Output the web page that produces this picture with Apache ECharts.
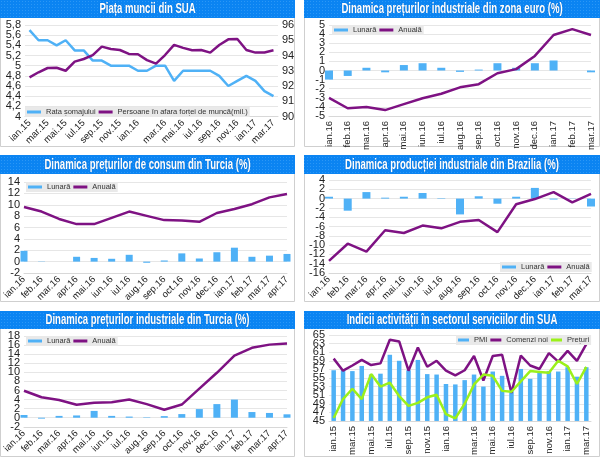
<!DOCTYPE html>
<html>
<head>
<meta charset="utf-8">
<style>
  html, body { margin: 0; padding: 0; background: #fff; }
  #chart { width: 600px; height: 458px; }
</style>
<script src="https://cdn.jsdelivr.net/npm/echarts@6/dist/echarts.min.js"></script>
</head>
<body>
<div id="chart"></div>
<script>
// etichete axa x (lunile din grafice)
const luni15 = ['ian.16','feb.16','mar.16','apr.16','mai.16','iun.16','iul.16','aug.16','sep.16','oct.16','nov.16','dec.16','ian.17','feb.17','mar.17'];
const luni16 = luni15.concat(['apr.17']);
const luni28 = ['ian.15','','mar.15','','mai.15','','iul.15','','sep.15','','nov.15','','ian.16','','','mar.16','','mai.16','','iul.16','','sep.16','','nov.16','','ian.17','','mar.17'];

// Piata muncii din SUA
const rataSomaj = [5.7,5.5,5.5,5.4,5.5,5.3,5.3,5.1,5.1,5.0,5.0,5.0,4.9,4.9,5.0,5.0,4.7,4.9,4.9,4.9,4.9,4.8,4.6,4.7,4.8,4.7,4.5,4.4];
const inAfaraFortei = [92.57,92.9,93.18,93.2,93.0,93.6,93.77,94.03,94.58,94.43,94.36,94.1,94.08,93.7,93.47,94.03,94.7,94.5,94.34,94.36,94.19,94.69,95.06,95.08,94.36,94.19,94.2,94.34];

// Preturi industriale zona euro
const euroLunara = [-1.0,-0.6,0.3,-0.2,0.6,0.8,0.3,-0.15,0.1,0.8,0.3,0.8,1.1,0,-0.2];
const euroAnuala = [-3,-4.15,-4.0,-4.35,-3.7,-3.05,-2.55,-1.85,-1.5,-0.3,0.15,1.6,3.9,4.55,3.9];

// Preturi de consum Turcia
const consumLunara = [1.9,0.05,0,0.85,0.65,0.5,1.2,-0.2,0.2,1.45,0.55,1.65,2.45,0.85,1.05,1.35];
const consumAnuala = [9.6,8.8,7.5,6.6,6.6,7.7,8.8,8.05,7.3,7.25,7.0,8.55,9.25,10.1,11.3,11.9];

// Productia industriala Brazilia
const brazLunara = [0.4,-2.6,1.4,0.2,0.4,1.2,0.1,-3.4,0.5,-1.1,0.4,2.3,-0.2,0.05,-1.7];
const brazAnuala = [-13.4,-9.7,-11.4,-6.8,-7.4,-5.8,-6.4,-5,-4.6,-7.2,-1.2,-0.1,1.4,-0.8,1.0];

// Preturi industriale Turcia
const turcLunara = [0.6,-0.2,0.4,0.5,1.5,0.4,0.25,0.1,0.35,0.8,1.9,3.0,4.0,1.25,1.05,0.75];
const turcAnuala = [5.95,4.5,3.9,2.85,3.3,3.4,4.0,3.0,1.75,2.9,6.4,9.9,13.7,15.4,16.1,16.35];

// Indici servicii SUA
const pmi = [56.8,56.8,56.6,57.8,55.8,56,60.4,59,56.8,59.2,55.9,55.8,53.6,53.5,54.5,55.8,53,56.5,55.5,51.9,57.1,54.8,56.3,56.6,56.5,57.5,55.3,57.5];
const comenziNoi = [59.5,56.7,57.9,59.2,58,58.4,63.9,63.5,56.7,62.1,57.6,59,56.7,55.6,56.8,60.1,54.4,60.1,60.4,51.5,60.2,57.9,57.1,60.8,58.8,61.3,59,62.9];
const preturi = [45.7,50.1,52.5,50.1,55.9,53,53.9,50.8,48.5,49.2,50.5,51.1,46.6,45.6,49,53.5,55.8,55.5,52,51.8,54.2,56.6,56.4,56.2,59,57.7,53.6,57.6];

const ALBASTRU = '#4fb1f6';
const MOV = '#7e1283';
const VERDE = '#9bf01a';
const FONT = '"Liberation Sans", Arial, sans-serif';

// textura cu puncte din banda de titlu
const tex = document.createElement('canvas');
tex.width = 3; tex.height = 3;
const tctx = tex.getContext('2d');
tctx.fillStyle = '#0b84f2';
tctx.fillRect(0, 0, 3, 3);
tctx.fillStyle = '#2b97f6';
tctx.fillRect(1, 1, 1, 1);

const panels = [
  { box: [0, 0, 295, 147], band: 18, title: 'Piața muncii din SUA', grid: [25, 25, 278, 116.5], cats: luni28, rotate: 45,
    y: { min: 4, max: 5.8, interval: 0.2, comma: true }, y2: { min: 90, max: 96, interval: 1 }, legend: { x: 25, y: 107 },
    items: [{ n: 'Rata șomajului', t: 'line', c: ALBASTRU, d: rataSomaj }, { n: 'Persoane în afara forței de muncă(mil.)', t: 'line', c: MOV, d: inAfaraFortei, axis: 1 }] },
  { box: [304, 0, 296, 147], band: 18, title: 'Dinamica prețurilor industriale din zona euro (%)', grid: [329, 25, 591, 116], cats: luni15, rotate: 90, edge: true, barW: 8,
    y: { min: -5, max: 5, interval: 1 }, legend: { x: 332, y: 25 },
    items: [{ n: 'Lunară', t: 'bar', c: ALBASTRU, d: euroLunara }, { n: 'Anuală', t: 'line', c: MOV, d: euroAnuala }] },
  { box: [0, 155, 295, 147], band: 19, title: 'Dinamica prețurilor de consum din Turcia (%)', grid: [24, 182, 287, 273], cats: luni16, rotate: 45, edge: true, barW: 7,
    y: { min: -2, max: 14, interval: 2 }, legend: { x: 26, y: 182 },
    items: [{ n: 'Lunară', t: 'bar', c: ALBASTRU, d: consumLunara }, { n: 'Anuală', t: 'line', c: MOV, d: consumAnuala }] },
  { box: [304, 155, 296, 147], band: 19, title: 'Dinamica producției industriale din Brazilia (%)', grid: [329, 180, 591, 273], cats: luni15, rotate: 45, edge: true, barW: 8,
    y: { min: -16, max: 4, interval: 2 }, legend: { x: 500, y: 262 },
    items: [{ n: 'Lunară', t: 'bar', c: ALBASTRU, d: brazLunara }, { n: 'Anuală', t: 'line', c: MOV, d: brazAnuala }] },
  { box: [0, 311, 295, 146], band: 18, title: 'Dinamica prețurilor industriale din Turcia (%)', grid: [24, 336, 287, 427], cats: luni16, rotate: 45, edge: true, barW: 7,
    y: { min: -2, max: 18, interval: 2 }, legend: { x: 26, y: 336 },
    items: [{ n: 'Lunară', t: 'bar', c: ALBASTRU, d: turcLunara }, { n: 'Anuală', t: 'line', c: MOV, d: turcAnuala }] },
  { box: [304, 311, 296, 146], band: 18, title: 'Indicii activității în sectorul serviciilor din SUA', grid: [329, 335, 591, 427], cats: luni28, rotate: 90, barW: 4.5,
    y: { min: 45, max: 65, interval: 2 }, legend: { x: 456, y: 335, itemW: 11 },
    items: [{ n: 'PMI', t: 'bar', c: ALBASTRU, d: pmi }, { n: 'Comenzi noi', t: 'line', c: MOV, d: comenziNoi }, { n: 'Prețuri', t: 'line', c: VERDE, d: preturi }] }
];

const option = { animation: false, backgroundColor: '#fff', grid: [], xAxis: [], yAxis: [], legend: [], series: [], graphic: [] };

const tickValues = cfg => {
  const out = [];
  const n = Math.round((cfg.max - cfg.min) / cfg.interval);
  for (let k = 0; k <= n; k++) out.push(+(cfg.min + k * cfg.interval).toFixed(1));
  return out;
};

const yAxisOf = (gridIndex, cfg, position, labelValues, showSplit) => ({
  type: 'value', gridIndex, position, min: cfg.min, max: cfg.max, interval: cfg.interval,
  axisLine: { show: false }, axisTick: { show: false },
  splitLine: { show: showSplit, lineStyle: { color: '#e6e6e6', width: 1 } },
  axisLabel: {
    color: '#222', fontFamily: FONT, fontSize: 11, margin: 4, customValues: labelValues,
    formatter: v => cfg.comma ? String(+v.toFixed(1)).replace('.', ',') : String(v)
  }
});

panels.forEach((p, i) => {
  const [bx, by, bw, bh] = p.box;
  option.graphic.push({ type: 'rect', z: -10, shape: { x: bx + 0.5, y: by + 0.5, width: bw - 1, height: bh - 1 }, style: { fill: '#fff', stroke: '#cfcfcf', lineWidth: 1 } });
  option.graphic.push({ type: 'rect', z: -9, shape: { x: bx, y: by, width: bw, height: p.band }, style: { fill: { image: tex, repeat: 'repeat' } } });
  // titlul ingustat, fontul condensat nu exista in sandbox
  option.graphic.push({
    type: 'text', z: 10, x: bx + bw / 2, y: by + p.band / 2, scaleX: 0.66,
    style: {
      text: p.title, fill: '#fff', align: 'center', verticalAlign: 'middle',
      font: 'bold 14.5px "Liberation Sans", sans-serif', textShadowColor: '#0a5fb5', textShadowBlur: 1
    }
  });

  const [x0, y0, x1, y1] = p.grid;
  option.grid.push({ left: x0, top: y0, width: x1 - x0, height: y1 - y0, containLabel: false });

  option.xAxis.push({
    type: 'category', gridIndex: i, data: p.cats, boundaryGap: !p.edge,
    axisLine: { onZero: false, lineStyle: { color: '#d8d8d8' } }, axisTick: { show: false },
    axisLabel: { color: '#222', fontFamily: FONT, fontSize: 9.5, rotate: p.rotate, interval: 0, margin: 5, hideOverlap: false }
  });

  // etichetele sunt prea dese pentru o singura axa (echarts ascunde vecina lui min/max),
  // asa ca se impart pe doua axe suprapuse
  const ticks = tickValues(p.y);
  const yIndex = option.yAxis.length;
  option.yAxis.push(yAxisOf(i, p.y, 'left', ticks.filter((v, k) => k % 2 === 0), true));
  option.yAxis.push(yAxisOf(i, p.y, 'left', ticks.filter((v, k) => k % 2 === 1), false));
  if (p.y2) option.yAxis.push(yAxisOf(i, p.y2, 'right', tickValues(p.y2), false));

  p.items.forEach(it => {
    const base = { name: it.n, xAxisIndex: i, yAxisIndex: it.axis ? yIndex + 2 : yIndex, data: it.d, color: it.c };
    if (it.t === 'bar') {
      option.series.push(Object.assign(base, { type: 'bar', barWidth: p.barW, itemStyle: { color: it.c }, z: 2 }));
    } else {
      option.series.push(Object.assign(base, { type: 'line', showSymbol: false, symbol: 'none', lineStyle: { color: it.c, width: 2.5 }, z: 3 }));
    }
  });

  option.legend.push({
    left: p.legend.x, top: p.legend.y, padding: [1, 2], itemGap: 3, itemWidth: p.legend.itemW || 14, itemHeight: 3, icon: 'rect',
    backgroundColor: '#e9e9e9', selectedMode: false,
    textStyle: { color: '#333', fontFamily: FONT, fontSize: 7.5 },
    data: p.items.map(it => it.n)
  });
});

const chart = echarts.init(document.getElementById('chart'), null, { renderer: 'canvas' });
chart.setOption(option);
</script>
</body>
</html>
